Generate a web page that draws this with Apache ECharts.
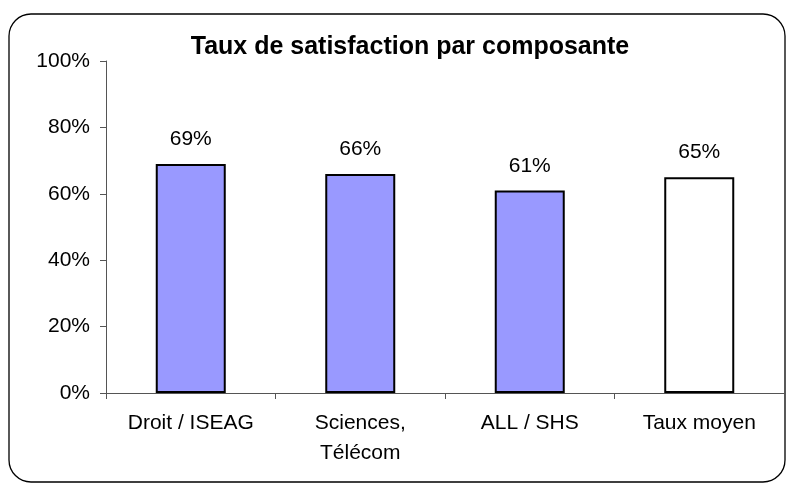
<!DOCTYPE html>
<html>
<head>
<meta charset="utf-8">
<script src="https://cdn.jsdelivr.net/npm/echarts@6/dist/echarts.min.js"></script>
<style>
  html, body { margin: 0; padding: 0; background: #fff; }
  #chart { width: 793px; height: 488px; }
</style>
</head>
<body>
<div id="chart"></div>
<script>
// données
const categories = ["Droit / ISEAG", "Sciences,\nTélécom", "ALL / SHS", "Taux moyen"];
const values = [69, 66, 61, 65];
const barColors = ["#9999ff", "#9999ff", "#9999ff", "#ffffff"];

const font = "Liberation Sans, Arial, sans-serif";

const myChart = echarts.init(document.getElementById("chart"));

const option = {
  animation: false,
  title: {
    text: "Taux de satisfaction par composante",
    left: 405,
    top: 30,
    textAlign: "center",
    textStyle: { fontFamily: font, fontSize: 25, fontWeight: "bold", color: "#000" },
  },
  graphic: [
    {
      type: "rect",
      shape: { x: 9, y: 14, width: 776, height: 468, r: 22 },
      style: { fill: "none", stroke: "#000", lineWidth: 1.3 },
      z: -1,
    },
  ],
  grid: { left: 106, right: 9, top: 61, bottom: 95 },
  xAxis: {
    type: "category",
    data: categories,
    axisLine: { lineStyle: { color: "#555", width: 1 } },
    axisTick: { show: true, length: 6, lineStyle: { color: "#555" } },
    axisLabel: {
      fontFamily: font,
      fontSize: 21,
      color: "#000",
      margin: 15,
      lineHeight: 30,
    },
  },
  yAxis: {
    type: "value",
    min: 0,
    max: 100,
    interval: 20,
    splitLine: { show: false },
    axisLine: { show: true, lineStyle: { color: "#555", width: 1 } },
    axisTick: { show: true, length: 6, lineStyle: { color: "#555" } },
    axisLabel: {
      fontFamily: font,
      fontSize: 21,
      color: "#000",
      margin: 16,
      formatter: "{value}%",
    },
  },
  series: [
    {
      type: "bar",
      barWidth: 70,
      data: values.map((v, i) => ({
        value: v,
        itemStyle: { color: barColors[i] },
      })),
      itemStyle: { borderColor: "#000", borderWidth: 2 },
      label: {
        show: true,
        position: "top",
        distance: 14,
        fontFamily: font,
        fontSize: 21,
        color: "#000",
        formatter: "{c}%",
      },
    },
  ],
};

myChart.setOption(option);
</script>
</body>
</html>
